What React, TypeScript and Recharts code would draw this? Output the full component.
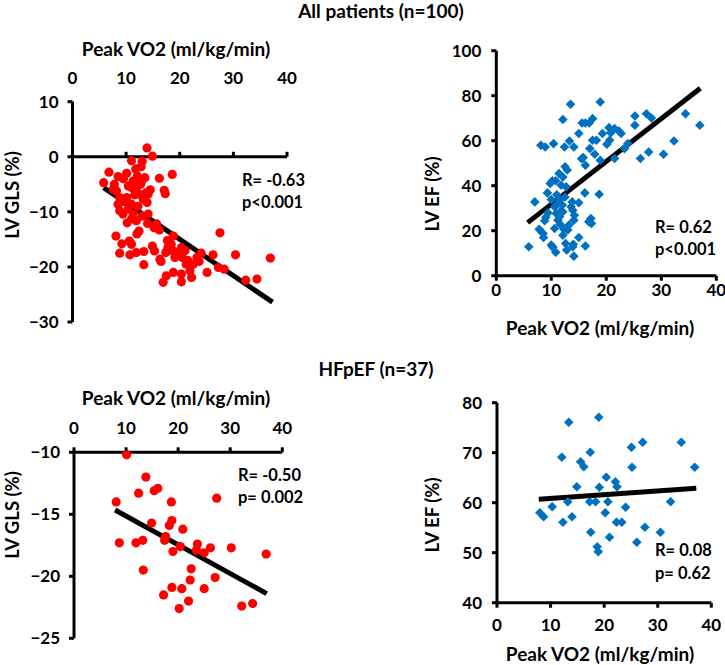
import { ScatterChart, Scatter, XAxis, YAxis, ReferenceLine } from "recharts";

// All patients: peak VO2 vs LV GLS
const allGlsVo2 = [
  13.9, 14.9, 11.0, 13.0, 6.8, 5.8, 8.5, 10.1, 11.8, 12.1, 13.5, 12.9, 11.3, 10.4, 11.0, 11.9, 13.8, 14.1, 12.5, 13.2,
  13.9, 16.2, 17.1, 17.3, 18.6, 8.2, 7.6, 8.8, 8.5, 8.8, 9.4, 10.4, 11.0, 11.3, 11.0, 11.9, 14.1, 14.0, 12.4, 15.7,
  16.2, 8.1, 10.6, 11.0, 8.8, 10.7, 11.9, 13.3, 13.3, 14.9, 15.3, 16.3, 17.4, 17.8, 18.4, 18.8, 18.8, 19.1, 17.5, 16.9,
  18.8, 20.3, 20.5, 20.3, 20.3, 21.2, 21.5, 21.9, 22.2, 22.5, 23.2, 24.0, 25.1, 26.2, 27.5, 27.2, 28.3, 30.4, 32.3, 34.4,
  36.9, 11.6, 10.1, 12.7, 9.5, 12.2, 13.0, 9.8, 15.2, 12.8, 7.8, 14.5, 10.2, 17.7, 19.5, 21.0, 16.5, 9.2, 12.0, 23.6,
];
const allGlsValues = [
  1.6, 0.1, -0.7, -0.8, -2.8, -4.7, -3.6, -3.0, -2.2, -3.5, -3.8, -4.4, -4.4, -5.3, -5.6, -5.6, -6.5, -6.8, -6.8, -7.7,
  -8.3, -3.9, -6.1, -6.7, -3.2, -6.2, -5.9, -7.4, -8.6, -9.8, -10.4, -9.5, -8.6, -10.4, -11.3, -11.6, -10.4, -12.1, -13.5, -12.2,
  -13.3, -14.4, -15.3, -15.9, -17.5, -17.8, -17.4, -17.2, -19.6, -16.2, -17.1, -18.6, -17.4, -16.5, -15.9, -14.4, -17.1, -18.3, -21.6, -22.8,
  -21.0, -16.5, -18.3, -21.3, -22.7, -19.5, -18.8, -20.7, -21.9, -19.5, -18.3, -17.5, -21.0, -17.8, -13.8, -20.1, -20.4, -17.8, -22.4, -22.2,
  -18.4, -6.9, -7.4, -5.0, -4.0, -9.0, -10.8, -8.2, -12.9, -1.8, -5.0, -6.0, -12.0, -15.2, -17.6, -17.0, -19.0, -15.8, -14.0, -19.0,
];
const allGlsFitX = [5.8, 37.3];
const allGlsFitY = [-5.6, -26.4];

// All patients: peak VO2 vs LV EF
const allEfVo2 = [
  5.9, 7.0, 7.8, 8.1, 8.9, 8.5, 8.6, 8.8, 9.3, 9.4, 10.0, 10.3, 10.4, 10.0, 10.2, 10.8, 10.8, 10.6, 10.9, 11.2,
  11.4, 11.5, 11.6, 11.8, 12.0, 12.1, 12.1, 12.3, 12.4, 12.5, 12.1, 12.7, 12.6, 12.8, 13.0, 13.3, 13.5, 13.8, 13.9, 14.1,
  13.9, 14.1, 14.1, 14.2, 15.0, 15.0, 15.0, 15.6, 15.8, 16.1, 16.2, 16.2, 16.2, 16.9, 17.5, 17.5, 17.2, 17.3, 17.9, 18.2,
  18.9, 18.7, 18.9, 19.3, 20.1, 20.5, 20.6, 21.5, 21.5, 22.3, 22.7, 23.3, 23.9, 25.2, 25.2, 26.2, 27.3, 27.7, 28.2, 30.4,
  32.3, 34.4, 37.0, 11.5, 12.1, 11.2, 13.6, 10.6, 11.8, 9.8, 12.9, 11.0, 13.2, 9.0, 14.0, 16.8, 12.5, 20.8, 15.5, 17.0,
];
const allEfValues = [
  12.9, 32.8, 20.6, 58.0, 57.2, 18.8, 17.0, 24.4, 36.8, 28.0, 13.6, 12.6, 58.7, 33.9, 42.2, 42.2, 10.4, 21.0, 27.7, 31.8,
  45.4, 26.2, 22.9, 28.8, 31.4, 69.4, 18.0, 20.6, 57.2, 48.4, 43.9, 39.5, 14.3, 11.4, 20.3, 59.9, 76.2, 32.8, 29.1, 57.2,
  12.9, 8.7, 24.7, 26.9, 63.2, 32.4, 17.0, 67.9, 52.5, 36.8, 13.2, 49.1, 67.9, 67.9, 69.8, 60.2, 25.4, 23.2, 54.0, 60.2,
  77.2, 36.2, 51.3, 63.2, 58.4, 65.8, 60.2, 52.1, 65.4, 64.3, 63.2, 56.5, 58.7, 71.0, 66.9, 52.1, 72.0, 55.0, 70.1, 54.0,
  59.9, 72.0, 66.9, 33.6, 28.4, 24.7, 30.6, 30.6, 40.2, 41.0, 47.0, 36.0, 22.5, 26.0, 14.0, 24.0, 35.0, 63.5, 52.0, 56.5,
];
const allEfFitX = [5.7, 37.1];
const allEfFitY = [23.6, 83.3];

// HFpEF: peak VO2 vs LV GLS
const hfGlsVo2 = [
  10.1, 8.1, 8.7, 12.4, 11.9, 13.2, 13.3, 13.8, 14.9, 15.4, 16.1, 17.4, 17.2, 17.6, 18.3, 18.7, 18.8, 19.0, 18.8,
  20.2, 20.7, 20.4, 20.9, 22.0, 22.3, 22.5, 23.5, 23.7, 25.0, 25.0, 26.2, 27.1, 27.4, 30.2, 32.2, 34.3, 36.9,
];
const hfGlsValues = [
  -10.2, -14.0, -17.3, -13.3, -17.3, -17.1, -19.5, -12.0, -15.7, -13.1, -12.9, -17.1, -21.5, -16.8, -15.9, -14.0, -15.5, -18.0, -20.9,
  -22.6, -21.0, -17.6, -16.2, -22.0, -20.3, -19.4, -17.9, -17.4, -18.1, -21.0, -17.7, -20.1, -13.7, -17.7, -22.4, -22.2, -18.2,
];
const hfGlsFitX = [7.9, 37.0];
const hfGlsFitY = [-14.65, -21.4];

// HFpEF: peak VO2 vs LV EF
const hfEfVo2 = [
  8.0, 8.7, 10.3, 12.1, 12.3, 13.2, 13.4, 14.0, 14.9, 15.6, 16.2, 17.4, 17.3, 17.5, 18.4, 18.7, 18.9, 19.0, 19.1,
  20.2, 20.4, 20.7, 21.0, 22.1, 22.4, 22.3, 23.3, 24.0, 25.1, 25.2, 26.1, 27.2, 27.6, 30.5, 32.4, 34.4, 36.9,
];
const hfEfValues = [
  58.0, 57.2, 59.2, 69.1, 56.1, 60.2, 76.1, 57.2, 63.2, 68.2, 67.2, 70.1, 60.2, 54.1, 60.2, 51.2, 50.2, 77.1, 63.1,
  58.0, 65.1, 60.2, 53.1, 64.2, 63.2, 56.1, 56.1, 59.1, 71.1, 67.1, 52.1, 72.1, 55.1, 54.1, 60.2, 72.1, 67.1,
];
const hfEfFitX = [7.8, 37.2];
const hfEfFitY = [60.7, 62.9];

const vo2Ticks = [0, 10, 20, 30, 40];
const allGlsTicks = [-30, -20, -10, 0, 10];
const allEfTicks = [0, 20, 40, 60, 80, 100];
const hfGlsTicks = [-25, -20, -15, -10];
const hfEfTicks = [40, 50, 60, 70, 80];

const FONT = "Lato, 'Open Sans', sans-serif";
const RED = "#ff0000";
const BLUE = "#0070c0";

const toPoints = (xs: number[], ys: number[]) => xs.map((x, i) => ({ x, y: ys[i] }));
const minus = (v: number) => String(v).replace("-", "\u2212");

const tickStyle = { fill: "#000", fontSize: 17, fontWeight: 700, fontFamily: FONT };
const axisLine = { stroke: "#000", strokeWidth: 3 };

const Dot = (props: any) => <circle cx={props.cx} cy={props.cy} r={4.6} fill={RED} />;
const Diamond = (props: any) => {
  const { cx, cy } = props;
  const d = 4.8;
  return <polygon points={`${cx},${cy - d} ${cx + d},${cy} ${cx},${cy + d} ${cx - d},${cy}`} fill={BLUE} />;
};

function Txt({ x, y, children, center, size = 16.5 }: any) {
  return (
    <div
      style={{
        position: "absolute",
        left: x,
        top: y,
        transform: center ? "translate(-50%, -50%)" : "translate(0, -50%)",
        fontFamily: FONT,
        fontWeight: 700,
        fontSize: size,
        whiteSpace: "nowrap",
        lineHeight: 1,
        color: "#000",
      }}
    >
      {children}
    </div>
  );
}

function VTxt({ x, y, children }: any) {
  return (
    <div
      style={{
        position: "absolute",
        left: x,
        top: y,
        transform: "translate(-50%, -50%) rotate(-90deg)",
        fontFamily: FONT,
        fontWeight: 700,
        fontSize: 18.5,
        whiteSpace: "nowrap",
        lineHeight: 1,
        color: "#000",
      }}
    >
      {children}
    </div>
  );
}

export default function App() {
  const allGls = toPoints(allGlsVo2, allGlsValues);
  const allEf = toPoints(allEfVo2, allEfValues);
  const hfGls = toPoints(hfGlsVo2, hfGlsValues);
  const hfEf = toPoints(hfEfVo2, hfEfValues);

  return (
    <div style={{ position: "absolute", left: 0, top: 0, width: 725, height: 665, background: "#fff", overflow: "hidden" }}>
      <Txt x={381} y={10} center size={19}>All patients (n=100)</Txt>
      <Txt x={376} y={368} center size={19}>HFpEF (n=37)</Txt>

      {/* top left: GLS, all patients */}
      <div style={{ position: "absolute", left: 0, top: 0 }}>
        <ScatterChart width={300} height={334} margin={{ top: 60, right: 13, bottom: 12, left: 22 }}>
          <XAxis
            type="number"
            dataKey="x"
            orientation="top"
            domain={[0, 40]}
            ticks={vo2Ticks}
            interval={0}
            height={41.7}
            axisLine={false}
            tickLine={false}
            tickSize={16}
            tickMargin={2}
            tick={tickStyle}
          />
          <YAxis
            type="number"
            dataKey="y"
            domain={[-30, 10]}
            ticks={allGlsTicks}
            interval={0}
            width={50.5}
            axisLine={axisLine}
            tickLine={axisLine}
            tickSize={5}
            tickMargin={9}
            tickFormatter={minus}
            tick={tickStyle}
          />
          <ReferenceLine y={0} stroke="#000" strokeWidth={3} />
          {vo2Ticks.slice(1).map((t) => (
            <ReferenceLine key={t} segment={[{ x: t, y: 0 }, { x: t, y: 0.9 }]} stroke="#000" strokeWidth={3} />
          ))}
          <Scatter data={allGls} shape={Dot} isAnimationActive={false} />
          <ReferenceLine
            segment={[{ x: allGlsFitX[0], y: allGlsFitY[0] }, { x: allGlsFitX[1], y: allGlsFitY[1] }]}
            stroke="#000"
            strokeWidth={5}
          />
        </ScatterChart>
      </div>
      <Txt x={176} y={48} center size={19}>Peak VO2 (ml/kg/min)</Txt>
      <VTxt x={12} y={195}>LV GLS (%)</VTxt>
      <Txt x={242} y={180}>R= -0.63</Txt>
      <Txt x={242} y={202}>p&lt;0.001</Txt>

      {/* top right: EF, all patients */}
      <div style={{ position: "absolute", left: 400, top: 0 }}>
        <ScatterChart width={325} height={340} margin={{ top: 50.7, right: 8.7, bottom: 34.3, left: 36.3 }}>
          <XAxis
            type="number"
            dataKey="x"
            domain={[0, 40]}
            ticks={vo2Ticks}
            interval={0}
            height={30}
            axisLine={axisLine}
            tickLine={axisLine}
            tickSize={5}
            tickMargin={3}
            tick={tickStyle}
          />
          <YAxis
            type="number"
            dataKey="y"
            domain={[0, 100]}
            ticks={allEfTicks}
            interval={0}
            width={60}
            axisLine={axisLine}
            tickLine={axisLine}
            tickSize={5}
            tickMargin={10}
            tick={tickStyle}
          />
          <Scatter data={allEf} shape={Diamond} isAnimationActive={false} />
          <ReferenceLine
            segment={[{ x: allEfFitX[0], y: allEfFitY[0] }, { x: allEfFitX[1], y: allEfFitY[1] }]}
            stroke="#000"
            strokeWidth={5}
          />
        </ScatterChart>
      </div>
      <Txt x={600} y={327} center size={19}>Peak VO2 (ml/kg/min)</Txt>
      <VTxt x={432} y={194}>LV EF (%)</VTxt>
      <Txt x={655} y={227}>R= 0.62</Txt>
      <Txt x={655} y={249}>p&lt;0.001</Txt>

      {/* bottom left: GLS, HFpEF */}
      <div style={{ position: "absolute", left: 0, top: 340 }}>
        <ScatterChart width={300} height={320} margin={{ top: 70.6, right: 17.7, bottom: 21.7, left: 23.5 }}>
          <XAxis
            type="number"
            dataKey="x"
            orientation="top"
            domain={[0, 40]}
            ticks={vo2Ticks}
            interval={0}
            height={41.7}
            axisLine={axisLine}
            tickLine={axisLine}
            tickSize={5}
            tickMargin={13}
            tick={tickStyle}
          />
          <YAxis
            type="number"
            dataKey="y"
            domain={[-25, -10]}
            ticks={hfGlsTicks}
            interval={0}
            width={50.5}
            axisLine={axisLine}
            tickLine={axisLine}
            tickSize={5}
            tickMargin={9}
            tickFormatter={minus}
            tick={tickStyle}
          />
          <Scatter data={hfGls} shape={Dot} isAnimationActive={false} />
          <ReferenceLine
            segment={[{ x: hfGlsFitX[0], y: hfGlsFitY[0] }, { x: hfGlsFitX[1], y: hfGlsFitY[1] }]}
            stroke="#000"
            strokeWidth={5}
          />
        </ScatterChart>
      </div>
      <Txt x={176} y={397} center size={19}>Peak VO2 (ml/kg/min)</Txt>
      <VTxt x={12} y={515}>LV GLS (%)</VTxt>
      <Txt x={238} y={475}>R= -0.50</Txt>
      <Txt x={238} y={497}>p= 0.002</Txt>

      {/* bottom right: EF, HFpEF */}
      <div style={{ position: "absolute", left: 400, top: 340 }}>
        <ScatterChart width={325} height={325} margin={{ top: 62.7, right: 13.7, bottom: 32.3, left: 37 }}>
          <XAxis
            type="number"
            dataKey="x"
            domain={[0, 40]}
            ticks={vo2Ticks}
            interval={0}
            height={30}
            axisLine={axisLine}
            tickLine={axisLine}
            tickSize={5}
            tickMargin={11}
            tick={tickStyle}
          />
          <YAxis
            type="number"
            dataKey="y"
            domain={[40, 80]}
            ticks={hfEfTicks}
            interval={0}
            width={60}
            axisLine={axisLine}
            tickLine={axisLine}
            tickSize={5}
            tickMargin={10}
            tick={tickStyle}
          />
          <Scatter data={hfEf} shape={Diamond} isAnimationActive={false} />
          <ReferenceLine
            segment={[{ x: hfEfFitX[0], y: hfEfFitY[0] }, { x: hfEfFitX[1], y: hfEfFitY[1] }]}
            stroke="#000"
            strokeWidth={5}
          />
        </ScatterChart>
      </div>
      <Txt x={600} y={653} center size={19}>Peak VO2 (ml/kg/min)</Txt>
      <VTxt x={432} y={515}>LV EF (%)</VTxt>
      <Txt x={655} y={550}>R= 0.08</Txt>
      <Txt x={655} y={573}>p= 0.62</Txt>
    </div>
  );
}
